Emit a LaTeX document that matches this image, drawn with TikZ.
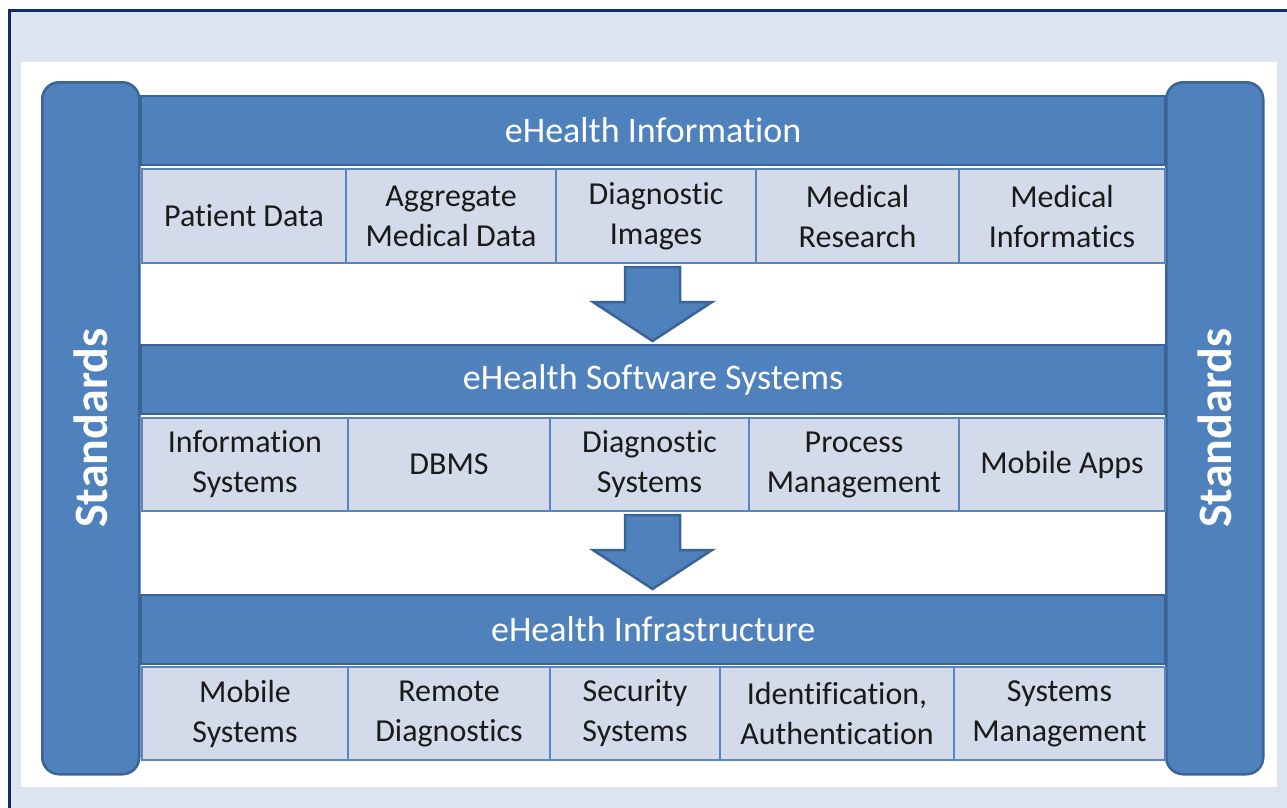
\documentclass[tikz,border=0pt]{standalone}
\usepackage{fontspec}
\setmainfont{Carlito}[Ligatures=NoCommon,RawFeature={-liga;-clig;-dlig}]
\definecolor{bgblue}{HTML}{DCE4F0}
\definecolor{frameblue}{HTML}{0F2A6E}
\definecolor{hfill}{HTML}{4F81BD}
\definecolor{hdraw}{HTML}{3A6396}
\definecolor{cfill}{HTML}{D3DAE9}
\definecolor{cdraw}{HTML}{5A85BE}
\definecolor{ctext}{HTML}{1A1A1A}
\begin{document}
\begin{tikzpicture}[x=1pt,y=-1pt,
  header/.style={draw=hdraw,fill=hfill,line width=2.2pt,anchor=north west,inner sep=0pt,
    text=white,font=\fontsize{36}{43}\selectfont},
  cell/.style={draw=cdraw,fill=cfill,line width=2pt,anchor=north west,inner sep=0pt,
    text=ctext,align=center,font=\fontsize{32}{40}\selectfont},
  stdbar/.style={draw=hdraw,fill=hfill,line width=2.5pt,rounded corners=17pt,anchor=north west,
    inner sep=0pt,minimum width=97pt,minimum height=692pt},
  stdtext/.style={text=white,font=\bfseries\fontsize{48}{58}\selectfont,rotate=90},
  blockarrow/.style={draw=hdraw,fill=hfill,line width=2.5pt,line join=miter}
]
\useasboundingbox (0,0) rectangle (1287,807);
% background and frame
\fill[white] (0,0) rectangle (1287,807);
\draw[fill=bgblue,draw=frameblue,line width=2.5pt] (9.5,10.5) rectangle (1295,815);
\fill[white] (21,62) rectangle (1277,787);

% standards bars
\node[stdbar] (stdL) at (41,81) {};
\node[stdtext] (stdLt) at (stdL.center) {Standards};
\node[stdbar] (stdR) at (1165,81) {};
\node[stdtext] (stdRt) at (stdR.center) {Standards};

% headers
\node[header,minimum width=1024pt,minimum height=69pt] (h1) at (140,95) {eHealth Information};
\node[header,minimum width=1024pt,minimum height=69pt] (h2) at (140,344) {eHealth Software Systems};
\node[header,minimum width=1024pt,minimum height=69pt] (h3) at (140,594) {eHealth Infrastructure};

% row 1 cells
\node[cell,minimum width=204pt,minimum height=94pt] (a1) at (141,168) {Patient Data};
\node[cell,minimum width=210pt,minimum height=94pt] (a2) at (345,168) {Aggregate\\Medical Data};
\node[cell,minimum width=200pt,minimum height=94pt] (a3) at (555,168) {Diagnostic\\Images};
\node[cell,minimum width=203pt,minimum height=94pt] (a4) at (755,168) {Medical\\Research};
\node[cell,minimum width=206pt,minimum height=94pt] (a5) at (958,168) {Medical\\Informatics};

% row 2 cells
\node[cell,minimum width=206pt,minimum height=93pt] (b1) at (141,417) {Information\\Systems};
\node[cell,minimum width=202pt,minimum height=93pt] (b2) at (347,417) {DBMS};
\node[cell,minimum width=199pt,minimum height=93pt] (b3) at (549,417) {Diagnostic\\Systems};
\node[cell,minimum width=210pt,minimum height=93pt] (b4) at (748,417) {Process\\Management};
\node[cell,minimum width=206pt,minimum height=93pt] (b5) at (958,417) {Mobile Apps};

% row 3 cells
\node[cell,minimum width=206pt,minimum height=93pt] (c1) at (141,666) {Mobile\\Systems};
\node[cell,minimum width=202pt,minimum height=93pt] (c2) at (347,666) {Remote\\Diagnostics};
\node[cell,minimum width=170pt,minimum height=93pt] (c3) at (549,666) {Security\\Systems};
\node[cell,minimum width=234pt,minimum height=93pt] (c4) at (719,666) {Identification,\\Authentication};
\node[cell,minimum width=211pt,minimum height=93pt] (c5) at (953,666) {Systems\\Management};

% block arrows
\draw[blockarrow] (625,267) -- (680,267) -- (680,302) -- (712,302) -- (652.5,341)
  -- (593,302) -- (625,302) -- cycle;
\draw[blockarrow] (625,515) -- (680,515) -- (680,550) -- (712,550) -- (652.5,589)
  -- (593,550) -- (625,550) -- cycle;
\end{tikzpicture}
\end{document}
